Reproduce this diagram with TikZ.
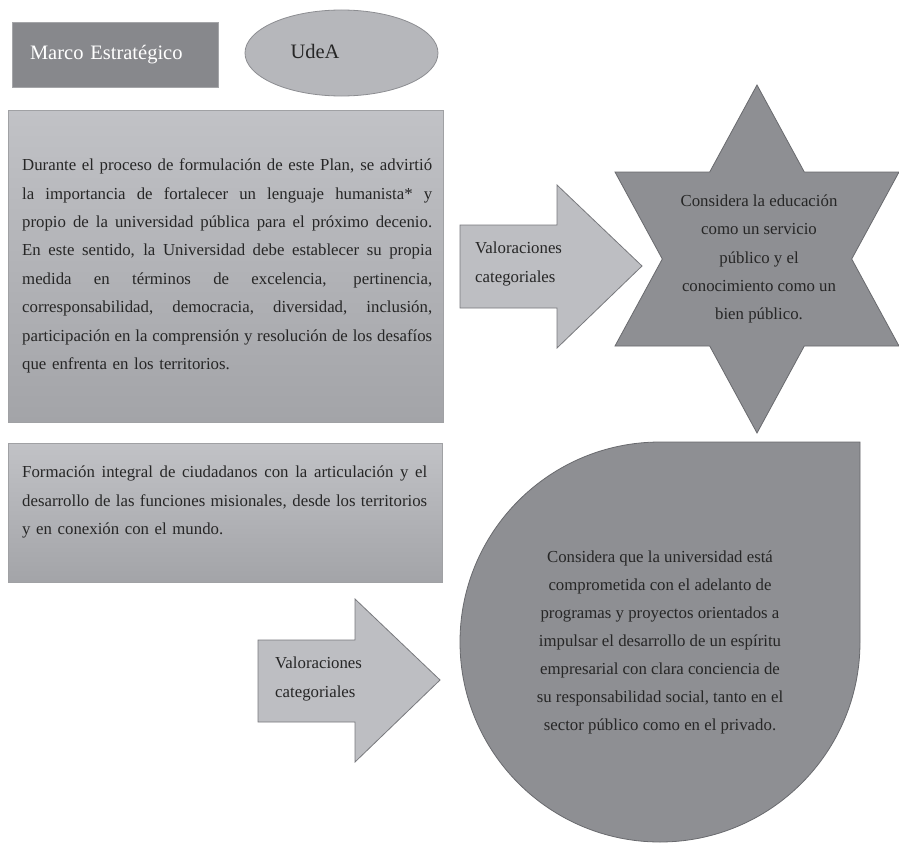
\documentclass[tikz,border=0pt]{standalone}
\usepackage{fontspec}
\setmainfont{Liberation Serif}
\usetikzlibrary{shapes.geometric}
\definecolor{marcofill}{RGB}{135,136,140}
\definecolor{marcoline}{RGB}{165,166,169}
\definecolor{ellfill}{RGB}{182,183,187}
\definecolor{ellline}{RGB}{140,141,145}
\definecolor{boxtop}{RGB}{193,194,198}
\definecolor{boxbot}{RGB}{163,164,168}
\definecolor{boxline}{RGB}{160,161,164}
\definecolor{arrfill}{RGB}{189,190,194}
\definecolor{arrline}{RGB}{120,121,125}
\definecolor{darkfill}{RGB}{142,143,147}
\definecolor{darkline}{RGB}{105,106,110}
\definecolor{ink}{RGB}{38,38,38}
\newcommand\jline[2]{{\spaceskip=0pt\xspaceskip=0pt\makebox[#1][s]{#2}}}
\begin{document}
\begin{tikzpicture}[x=1pt,y=-1pt,
  titlefont/.style={font=\fontsize{20.5}{24}\selectfont},
  bodytext/.style={font=\fontsize{16.8}{28.4}\selectfont, text=ink, inner sep=0pt, align=left},
  centertext/.style={font=\fontsize{16.8}{28.1}\selectfont, text=ink, inner sep=0pt, align=center},
  marcobox/.style={rectangle, fill=marcofill, draw=marcoline, line width=0.8pt, minimum width=206pt, minimum height=65pt, text width=170pt, inner xsep=18pt, inner ysep=0pt, align=left, text=white, titlefont},
  udeaell/.style={ellipse, fill=ellfill, draw=ellline, line width=0.8pt, minimum width=193pt, minimum height=86pt, inner sep=0pt},
  graybox/.style={rectangle, top color=boxtop, bottom color=boxbot, draw=boxline, line width=0.8pt, inner sep=0pt},
  arrowshape/.style={fill=arrfill, draw=arrline, line width=0.8pt, line join=miter},
  darkshape/.style={fill=darkfill, draw=darkline, line width=0.8pt, line join=miter}
]
\useasboundingbox (0,0) rectangle (899,843);
\fill[white] (0,0) rectangle (899,843);

% title row
\node[marcobox] (marco) at (115,54.5) {Marco Estratégico};
\node[udeaell] (udea) at (341.5,53) {};
\node[titlefont, text=ink, inner sep=0pt] (udeatext) at (315,51) {UdeA};

% first text box
\node[graybox, minimum width=435pt, minimum height=312pt] (plan) at (225.5,266) {};
\node[bodytext, text width=410pt, anchor=west] (plantext) at (22,266) {%
\jline{410pt}{Durante el proceso de formulación de este Plan, se advirtió}\\
\jline{410pt}{la importancia de fortalecer un lenguaje humanista* y}\\
\jline{410pt}{propio de la universidad pública para el próximo decenio.}\\
\jline{410pt}{En este sentido, la Universidad debe establecer su propia}\\
\jline{410pt}{medida en términos de excelencia, pertinencia,}\\
\jline{410pt}{corresponsabilidad, democracia, diversidad, inclusión,}\\
\jline{410pt}{participación en la comprensión y resolución de los desafíos}\\
que enfrenta en los territorios.};

% second text box
\node[graybox, minimum width=434pt, minimum height=139pt] (mision) at (225,512.5) {};
\node[bodytext, text width=405pt, anchor=west] (misiontext) at (22,502) {%
\jline{405pt}{Formación integral de ciudadanos con la articulación y el}\\
\jline{405pt}{desarrollo de las funciones misionales, desde los territorios}\\
y en conexión con el mundo.};

% arrow 1
\draw[arrowshape] (460,225) -- (557,225) -- (557,185) -- (642,266) -- (557,348) -- (557,308) -- (460,308) -- cycle;
\node[bodytext, anchor=west] (val1) at (475,264) {Valoraciones\\categoriales};

% arrow 2
\draw[arrowshape] (258,640) -- (355,640) -- (355,599) -- (440,680) -- (355,762) -- (355,722) -- (258,722) -- cycle;
\node[bodytext, anchor=west] (val2) at (275,679) {Valoraciones\\categoriales};

% six-pointed star
\draw[darkshape] (757,85) -- (804.3,172) -- (899,172) -- (851.7,259) -- (899,346) -- (804.3,346)
  -- (757,433) -- (709.7,346) -- (615,346) -- (662.3,259) -- (615,172) -- (709.7,172) -- cycle;
\node[centertext] (startext) at (759,259) {Considera la educación\\como un servicio\\público y el\\conocimiento como un\\bien público.};

% teardrop
\draw[darkshape] (860,642) arc[start angle=0, end angle=270, radius=200] -- (860,442) -- cycle;
\node[centertext] (droptext) at (660,642.5) {Considera que la universidad está\\comprometida con el adelanto de\\programas y proyectos orientados a\\impulsar el desarrollo de un espíritu\\empresarial con clara conciencia de\\su responsabilidad social, tanto en el\\sector público como en el privado.};
\end{tikzpicture}
\end{document}
